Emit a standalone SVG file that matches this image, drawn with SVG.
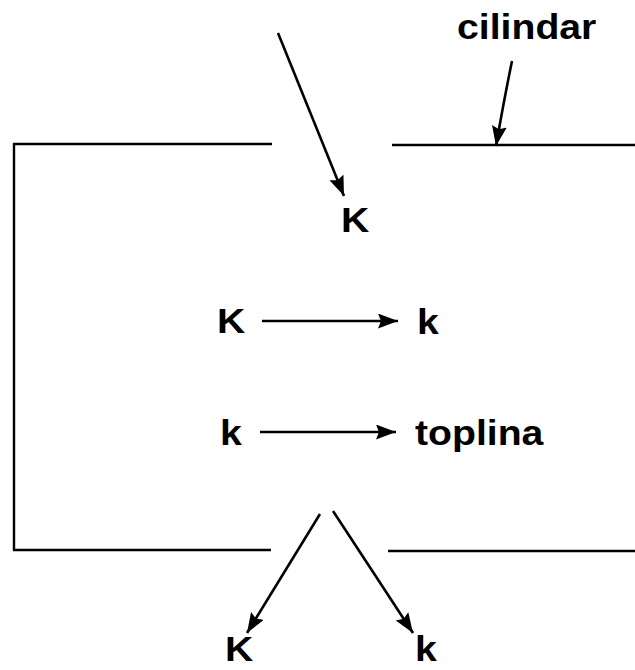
<svg xmlns="http://www.w3.org/2000/svg" width="635" height="670" viewBox="0 0 635 670">
<style>
.t{font-family:"Liberation Sans",Arial,sans-serif;font-weight:bold;font-size:35px;fill:#000}
.ln{stroke:#000;stroke-width:2.4;fill:none}
.ar{stroke:#000;stroke-width:2.6;fill:none;marker-end:url(#ah)}
</style>
<defs>
<marker id="ah" markerUnits="userSpaceOnUse" markerWidth="22" markerHeight="16" refX="20" refY="7.5" orient="auto">
<path d="M0,0 L20,7.5 L0,15 L3,7.5 z" fill="#000"/>
</marker>
</defs>
<g id="cylinder">
<path class="ln" d="M272,144 H14 V550 H271"/>
<path class="ln" d="M392,145 H635"/>
<path class="ln" d="M388,551 H635"/>
</g>
<g id="connectors">
<path class="ar" d="M278,33 L344,196"/>
<path class="ar" d="M512,61 Q504,100 496,146"/>
<path class="ar" d="M262,321 L398,321"/>
<path class="ar" d="M260,432 L396,432"/>
<path class="ar" d="M320,514 L247,633"/>
<path class="ar" d="M333,511 L413,633"/>
</g>
<g id="label-cilindar"><text class="t" transform="translate(457,39) scale(1.12,1)">cilindar</text></g>
<g id="node-K-top"><text class="t" transform="translate(341,232) scale(1.12,1)">K</text></g>
<g id="node-K-row1"><text class="t" transform="translate(217,333) scale(1.12,1)">K</text></g>
<g id="node-k-row1"><text class="t" transform="translate(417,334) scale(1.12,1)">k</text></g>
<g id="node-k-row2"><text class="t" transform="translate(220,445) scale(1.12,1)">k</text></g>
<g id="node-toplina"><text class="t" transform="translate(415,445) scale(1.12,1)">toplina</text></g>
<g id="node-K-bottom"><text class="t" transform="translate(225,661) scale(1.12,1)">K</text></g>
<g id="node-k-bottom"><text class="t" transform="translate(415,661) scale(1.12,1)">k</text></g>
</svg>
